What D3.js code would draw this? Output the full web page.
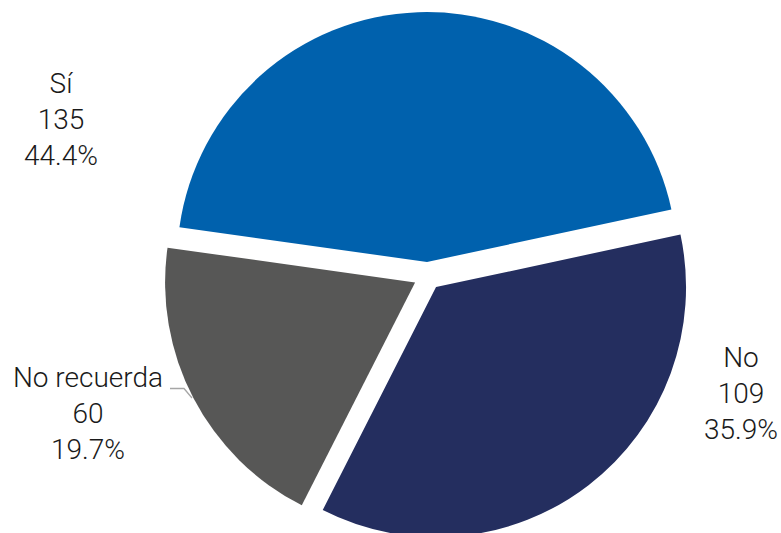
<!DOCTYPE html>
<html><head><meta charset="utf-8">
<script src="https://cdn.jsdelivr.net/npm/d3@7"></script>
<style>body{margin:0;background:#fff}svg{display:block}</style>
</head><body>
<script>
const categories = ["Sí", "No", "No recuerda"];
const values = [135, 109, 60];
const percents = ["44.4%", "35.9%", "19.7%"];
const colors = ["#0061ad", "#242e5f", "#575756"];

const W = 781, H = 533;
const cx = 427.5, cy = 276, R = 250, explode = 14;
const startDeg = -82;
// label anchor positions (layout): centre x, baseline of middle line
const labelPos = [[61, 128.5], [741, 402.5], [88, 423]];

const svg = d3.select("body").append("svg").attr("width", W).attr("height", H);
const g = svg.append("g").attr("transform", `translate(${cx},${cy})`);

const pie = d3.pie().sort(null).value(d => d)
  .startAngle(startDeg * Math.PI / 180).endAngle((startDeg + 360) * Math.PI / 180);
const arcs = pie(values);
const arc = d3.arc().innerRadius(0).outerRadius(R);

g.selectAll("path").data(arcs).join("path")
  .attr("d", arc)
  .attr("fill", (d, i) => colors[i])
  .attr("transform", d => {
    const m = (d.startAngle + d.endAngle) / 2;
    return `translate(${explode * Math.sin(m)},${-explode * Math.cos(m)})`;
  });

// leader line for "No recuerda"
svg.append("polyline")
  .attr("points", "170,388.5 184,388.5 192,398")
  .attr("fill", "none").attr("stroke", "#a6a6a6").attr("stroke-width", 1.3);

const lh = 36;
arcs.forEach((d, i) => {
  const [x, y] = labelPos[i];
  const t = svg.append("text")
    .attr("x", x).attr("y", y)
    .attr("text-anchor", "middle")
    .attr("font-family", "Roboto, 'Open Sans', sans-serif")
    .attr("font-weight", 300)
    .attr("font-size", 28).attr("fill", "#1a1a1a");
  [categories[i], String(values[i]), percents[i]].forEach((s, k) => {
    t.append("tspan").attr("x", x).attr("y", y + (k - 1) * lh).text(s);
  });
});
</script>
</body></html>
